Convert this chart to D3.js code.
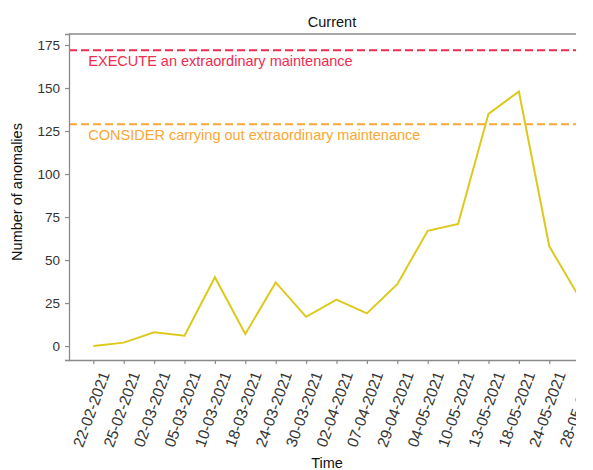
<!DOCTYPE html>
<html>
<head>
<meta charset="utf-8">
<script src="https://cdn.jsdelivr.net/npm/d3@7"></script>
<style>
  body { margin: 0; background: #fff; }
  text { font-family: "Liberation Sans", Arial, sans-serif; }
</style>
</head>
<body>
<script>
// dimensions
const width = 593;
const height = 470;

// data
const dates = ["22-02-2021", "25-02-2021", "02-03-2021", "05-03-2021", "10-03-2021",
    "18-03-2021", "24-03-2021", "30-03-2021", "02-04-2021", "07-04-2021",
    "29-04-2021", "04-05-2021", "10-05-2021", "13-05-2021", "18-05-2021",
    "24-05-2021", "28-05-2021"];
const anomalies = [0, 2, 8, 6, 40, 7, 37, 17, 27, 19, 36, 67, 71, 135, 148, 58, 28];
const yTicks = [0, 25, 50, 75, 100, 125, 150, 175];
const thresholds = [
    { value: 172, color: "#ef2b50", label: "EXECUTE an extraordinary maintenance" },
    { value: 129, color: "#fca634", label: "CONSIDER carrying out extraordinary maintenance" }
];

const line_color = "#ddc91c";
const spine_color = "#8a8a8a";

const plot = { left: 69, right: 604, top: 34, bottom: 360 };

let svg = d3.select("body")
    .append("svg")
    .attr("width", width)
    .attr("height", height);

// the picture is cut off on the right side
svg.append("clipPath")
    .attr("id", "crop")
    .append("rect")
    .attr("x", 0)
    .attr("y", 0)
    .attr("width", 576)
    .attr("height", height);

let g = svg.append("g").attr("clip-path", "url(#crop)");

let x = d3.scalePoint()
    .domain(dates)
    .range([plot.left, plot.right])
    .padding(0.8);

let y = d3.scaleLinear()
    .domain([-8.1, 181.4])
    .range([plot.bottom, plot.top]);

// title
g.append("text")
    .attr("x", 332)
    .attr("y", 27)
    .attr("text-anchor", "middle")
    .style("font-size", "14.5px")
    .style("fill", "#111")
    .text("Current");

// threshold lines and their labels
thresholds.forEach(function(t) {
    g.append("line")
        .attr("x1", plot.left)
        .attr("x2", plot.right)
        .attr("y1", y(t.value))
        .attr("y2", y(t.value))
        .attr("stroke", t.color)
        .attr("stroke-width", 2)
        .attr("stroke-dasharray", "8,4");
    g.append("text")
        .attr("x", x(dates[0]) - 5)
        .attr("y", y(t.value) + 16)
        .style("font-size", "14.5px")
        .style("fill", t.color)
        .text(t.label);
});

// the series
let line = d3.line()
    .x(function(d, i) { return x(dates[i]); })
    .y(function(d) { return y(d); });

g.append("path")
    .datum(anomalies)
    .attr("d", line)
    .attr("fill", "none")
    .attr("stroke", line_color)
    .attr("stroke-width", 2);

// y axis
let yAxis = g.append("g")
    .attr("transform", "translate(" + plot.left + ",0)")
    .call(d3.axisLeft(y).tickValues(yTicks).tickSize(4).tickPadding(5));
yAxis.selectAll("text")
    .style("font-size", "13.5px")
    .style("font-family", "Liberation Sans, Arial, sans-serif")
    .style("fill", "#333");

// x axis, labels turned by 70 degrees
let xAxis = g.append("g")
    .attr("transform", "translate(0," + plot.bottom + ")")
    .call(d3.axisBottom(x).tickSize(4).tickSizeOuter(0));
xAxis.selectAll("text")
    .style("font-size", "15.5px")
    .style("font-family", "Liberation Sans, Arial, sans-serif")
    .style("fill", "#333")
    .attr("text-anchor", "end")
    .attr("transform", "translate(11,12) rotate(-70)")
    .attr("x", 0)
    .attr("y", 0)
    .attr("dy", "0.35em");

[yAxis, xAxis].forEach(function(a) {
    a.select(".domain").attr("stroke", spine_color).attr("stroke-width", 1.3);
    a.selectAll(".tick line").attr("stroke", spine_color).attr("stroke-width", 1.2);
});

// top spine
g.append("line")
    .attr("x1", plot.left)
    .attr("x2", plot.right)
    .attr("y1", plot.top)
    .attr("y2", plot.top)
    .attr("stroke", spine_color)
    .attr("stroke-width", 1.3);

// axis labels
g.append("text")
    .attr("transform", "translate(22,192) rotate(-90)")
    .attr("text-anchor", "middle")
    .style("font-size", "14.5px")
    .style("fill", "#111")
    .text("Number of anomalies");

g.append("text")
    .attr("x", 327)
    .attr("y", 468)
    .attr("text-anchor", "middle")
    .style("font-size", "14.5px")
    .style("fill", "#111")
    .text("Time");
</script>
</body>
</html>
